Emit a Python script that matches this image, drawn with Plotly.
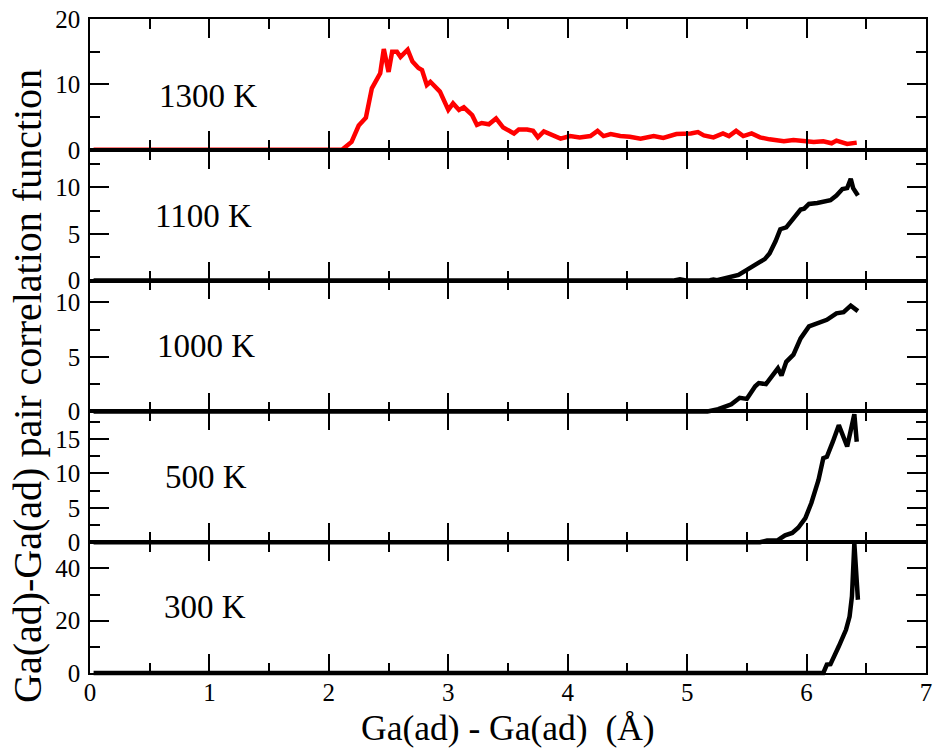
import plotly.graph_objects as go

# ---------------- data ----------------
x_1300 = [0.03, 2.11, 2.19, 2.25, 2.31, 2.36, 2.43, 2.46, 2.50, 2.53, 2.57, 2.60, 2.66, 2.70, 2.75, 2.78,
          2.82, 2.85, 2.93, 3.00, 3.04, 3.09, 3.13, 3.20, 3.24, 3.28, 3.34, 3.40, 3.46, 3.55, 3.59, 3.66,
          3.71, 3.75, 3.80, 3.88, 3.94, 4.02, 4.10, 4.19, 4.25, 4.30, 4.36, 4.44, 4.52, 4.61, 4.72, 4.80,
          4.91, 5.03, 5.09, 5.14, 5.22, 5.30, 5.35, 5.41, 5.47, 5.54, 5.61, 5.69, 5.81, 5.89, 5.97, 6.06,
          6.14, 6.21, 6.25, 6.34, 6.42]
y_1300 = [0, 0, 1.2, 3.7, 4.9, 9.4, 11.7, 15.4, 11.9, 15.0, 15.0, 14.2, 15.3, 13.5, 12.5, 12.2,
          9.9, 10.4, 8.9, 6.1, 7.1, 6.1, 6.5, 5.3, 3.8, 4.1, 3.9, 4.8, 3.4, 2.5, 3.1, 3.1,
          2.9, 1.9, 2.8, 2.2, 1.7, 2.1, 1.9, 2.1, 2.9, 2.1, 2.4, 2.1, 2.0, 1.7, 2.1, 1.8,
          2.4, 2.5, 2.7, 2.2, 1.9, 2.5, 2.1, 2.9, 2.1, 2.5, 1.9, 1.6, 1.3, 1.5, 1.3, 1.2,
          1.3, 1.0, 1.4, 0.9, 1.1]

x_1100 = [0.03, 4.88, 4.94, 5.00, 5.19, 5.22, 5.25, 5.33, 5.43, 5.50, 5.55, 5.61, 5.65, 5.69, 5.74, 5.78,
          5.83, 5.89, 5.95, 5.98, 6.02, 6.09, 6.20, 6.25, 6.30, 6.34, 6.37, 6.39, 6.43]
y_1100 = [0, 0, 0.15, 0, 0.05, 0.12, 0.05, 0.25, 0.6, 1.15, 1.6, 2.0, 2.3, 2.9, 4.2, 5.5,
          5.7, 6.7, 7.6, 7.7, 8.2, 8.3, 8.6, 9.1, 9.8, 9.9, 10.9, 9.9, 9.1]

x_1000 = [0.03, 5.05, 5.11, 5.17, 5.26, 5.32, 5.37, 5.44, 5.50, 5.57, 5.60, 5.66, 5.72, 5.76, 5.79, 5.83,
          5.89, 5.95, 6.02, 6.09, 6.17, 6.25, 6.31, 6.37, 6.43]
y_1000 = [0, 0, 0.1, 0, 0.2, 0.4, 0.65, 1.25, 1.15, 2.3, 2.6, 2.5, 3.3, 3.95, 3.3, 4.55,
          5.2, 6.7, 7.8, 8.1, 8.4, 9.0, 9.1, 9.7, 9.2]

x_500 = [0.03, 5.61, 5.67, 5.76, 5.82, 5.88, 5.93, 5.99, 6.04, 6.10, 6.14, 6.17, 6.22, 6.27, 6.34, 6.40, 6.42]
y_500 = [0, 0, 0.25, 0.3, 1.0, 1.35, 2.1, 3.5, 5.7, 9.05, 12.2, 12.4, 14.6, 17.0, 13.9, 18.6, 14.6]

x_300 = [0.03, 6.14, 6.17, 6.20, 6.27, 6.33, 6.36, 6.38, 6.40, 6.43]
y_300 = [0, 0, 3.2, 3.4, 10.2, 16.5, 21.6, 29.3, 49.6, 28.0]

panel_labels = ["1300 K", "1100 K", "1000 K", "500 K", "300 K"]
label_x = [0.99, 0.95, 0.97, 0.97, 0.96]
label_y = [8.2, 6.9, 6.0, 9.5, 25.3]
y_ranges = [[0, 20], [0, 14], [0, 12], [0, 19], [0, 50]]
y_dticks = [10, 5, 5, 5, 20]
y_minor = [5, 2.5, 2.5, 2.5, 10]
series_x = [x_1300, x_1100, x_1000, x_500, x_300]
series_y = [y_1300, y_1100, y_1000, y_500, y_300]
series_color = ["#ff0000", "#000000", "#000000", "#000000", "#000000"]
series_width = [4.5, 4.5, 4.5, 4.5, 4.5]

x_title = "Ga(ad) - Ga(ad) \u00a0(Å)"
y_title = "Ga(ad)-Ga(ad) pair correlation function"

# ---------------- layout geometry ----------------
W, H = 935, 756
ML, MR, MT, MB = 90, 9, 13, 77
area_top, area_bot = MT, H - MB
area_h = area_bot - area_top
panel_top, panel_bot = 19.0, 673.0
ph = (panel_bot - panel_top) / 5
ext = 5.0  # px of extra room for data clip area


def frac(py):
    return (area_bot - py) / area_h


FONT = "Liberation Serif, Times New Roman, serif"
fig = go.Figure()
layout = dict(
    width=W, height=H,
    margin=dict(l=ML, r=MR, t=MT, b=MB, autoexpand=False),
    paper_bgcolor="white", plot_bgcolor="rgba(0,0,0,0)",
    showlegend=False,
    font=dict(family=FONT, color="black"),
)

# data axes (drawn first)
layout["xaxis"] = dict(domain=[0, 1], range=[0, 7], visible=False, anchor="y",
                       fixedrange=True, automargin=False)
for i in range(5):
    top = panel_top + i * ph
    bot = top + ph
    r0, r1 = y_ranges[i]
    pp = (r1 - r0) / ph
    yid = "y" if i == 0 else f"y{i+1}"
    key = "yaxis" if i == 0 else f"yaxis{i+1}"
    layout[key] = dict(domain=[frac(bot + ext), frac(top - ext)],
                       range=[r0 - ext * pp, r1 + ext * pp],
                       visible=False, anchor="x", fixedrange=True, automargin=False)
    fig.add_trace(go.Scatter(x=series_x[i], y=series_y[i], mode="lines",
                             line=dict(color=series_color[i], width=series_width[i]),
                             xaxis="x", yaxis=yid, hoverinfo="skip"))

# visible frame axes
for i in range(5):
    top = panel_top + i * ph
    bot = top + ph
    xk, yk = f"xaxis{i+2}", f"yaxis{i+6}"
    xid, yid = f"x{i+2}", f"y{i+6}"
    layout[xk] = dict(domain=[0, 1], range=[0, 7], anchor=yid,
                      showline=True, linecolor="black", linewidth=1.5, mirror="ticks",
                      ticks="inside", ticklen=19, tickwidth=2, tickcolor="black",
                      tick0=0, dtick=1, showgrid=False, zeroline=False,
                      minor=dict(ticks="inside", dtick=0.5, ticklen=10, tickwidth=2,
                                 tickcolor="black", showgrid=False),
                      showticklabels=(i == 4), ticklabelstandoff=-4, automargin=False,
                      tickfont=dict(family=FONT, size=25, color="black"), fixedrange=True)
    layout[yk] = dict(domain=[frac(bot), frac(top)], range=y_ranges[i], anchor=xid,
                      showline=True, linecolor="black", linewidth=1.5, mirror="ticks",
                      ticks="inside", ticklen=19, tickwidth=2, tickcolor="black",
                      tick0=0, dtick=y_dticks[i], showgrid=False, zeroline=False,
                      minor=dict(ticks="inside", dtick=y_minor[i], ticklen=10, tickwidth=2,
                                 tickcolor="black", showgrid=False),
                      ticklabelstandoff=3, automargin=False,
                      tickfont=dict(family=FONT, size=25, color="black"), fixedrange=True)
    fig.add_annotation(x=label_x[i], y=label_y[i], xref=xid, yref=yid,
                       text=panel_labels[i], showarrow=False,
                       font=dict(family=FONT, size=33, color="black"),
                       xanchor="center", yanchor="middle")

plot_w = W - ML - MR
fig.add_annotation(x=(508 - ML) / plot_w, y=frac(728), xref="paper", yref="paper",
                   text=x_title, showarrow=False, xanchor="center", yanchor="middle",
                   font=dict(family=FONT, size=35.5, color="black"))
fig.add_annotation(x=(27 - ML) / plot_w, y=frac(386), xref="paper", yref="paper",
                   text=y_title, showarrow=False, textangle=-90,
                   xanchor="center", yanchor="middle",
                   font=dict(family=FONT, size=40, color="black"))

fig.update_layout(**layout)
fig.write_html("out.html", config={"displayModeBar": False},
               post_script="document.body.style.margin='0';document.body.style.padding='0';")
